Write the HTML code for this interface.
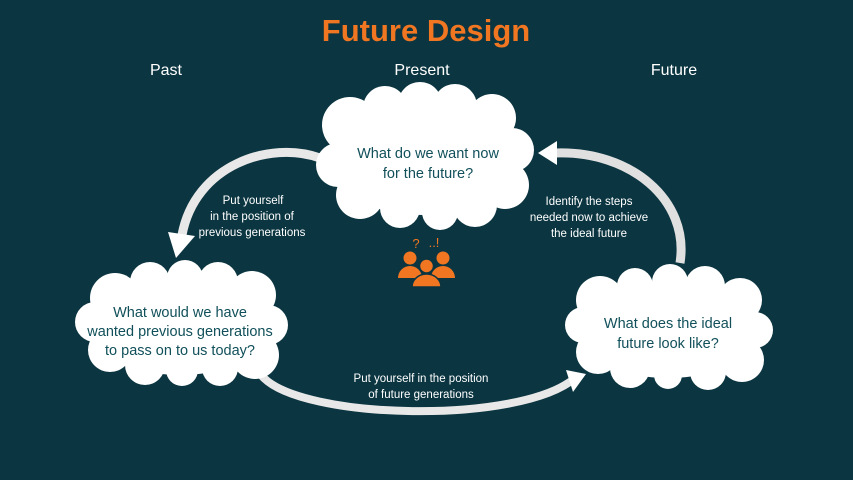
<!DOCTYPE html>
<html><head><meta charset="utf-8"><style>
html,body{margin:0;padding:0;background:#0b3540;}
svg{display:block}
text{font-family:"Liberation Sans",sans-serif}
</style></head><body>
<svg width="853" height="480" viewBox="0 0 853 480" xmlns="http://www.w3.org/2000/svg">
<rect width="853" height="480" fill="#0b3540"/>
<text x="426" y="41" text-anchor="middle" font-size="31" font-weight="bold" fill="#f07622">Future Design</text>
<text x="166" y="75" text-anchor="middle" font-size="16" fill="#fff">Past</text>
<text x="422" y="75" text-anchor="middle" font-size="16" fill="#fff">Present</text>
<text x="674" y="75" text-anchor="middle" font-size="16" fill="#fff">Future</text>

<g fill="none" stroke-linecap="butt">
<path d="M320,158 C270,140 195,165 182,235" stroke="#e8e8e8" stroke-width="9"/>
<path d="M680,263 C690,200 630,150 555,153" stroke="#e0e0e0" stroke-width="9"/>
<path d="M262,376 C300,420 520,425 575,378" stroke="#e8e8e8" stroke-width="8"/>
</g>
<polygon points="168,232 195,236 176,258" fill="#ffffff"/>
<polygon points="557,141 557,165 538,153" fill="#ffffff"/>
<polygon points="566,370 586,374 573,392" fill="#ffffff"/>

<g fill="#fff">
<ellipse cx="423" cy="160" rx="95" ry="55"/>
<circle cx="350" cy="125" r="28"/><circle cx="385" cy="108" r="22"/><circle cx="420" cy="104" r="22"/><circle cx="455" cy="106" r="22"/><circle cx="492" cy="118" r="24"/>
<circle cx="512" cy="150" r="22"/><circle cx="505" cy="185" r="24"/><circle cx="475" cy="205" r="22"/><circle cx="440" cy="212" r="18"/><circle cx="400" cy="208" r="20"/>
<circle cx="360" cy="195" r="24"/><circle cx="338" cy="165" r="22"/>
</g>
<text x="428" y="158" text-anchor="middle" font-size="14.5" fill="#11505a">What do we want now</text>
<text x="428" y="178" text-anchor="middle" font-size="14.5" fill="#11505a">for the future?</text>

<g fill="#fff">
<ellipse cx="180" cy="325" rx="95" ry="50"/>
<circle cx="115" cy="298" r="25"/><circle cx="150" cy="282" r="20"/><circle cx="185" cy="278" r="18"/><circle cx="218" cy="282" r="20"/><circle cx="252" cy="295" r="24"/>
<circle cx="268" cy="325" r="20"/><circle cx="255" cy="355" r="24"/><circle cx="220" cy="368" r="18"/><circle cx="182" cy="370" r="16"/><circle cx="145" cy="365" r="20"/>
<circle cx="110" cy="350" r="22"/><circle cx="95" cy="322" r="20"/>
</g>
<text x="180" y="317" text-anchor="middle" font-size="14.5" fill="#11505a">What would we have</text>
<text x="180" y="336" text-anchor="middle" font-size="14.5" fill="#11505a">wanted previous generations</text>
<text x="180" y="355" text-anchor="middle" font-size="14.5" fill="#11505a">to pass on to us today?</text>

<g fill="#fff">
<ellipse cx="668" cy="330" rx="92" ry="48"/>
<circle cx="600" cy="300" r="24"/><circle cx="635" cy="286" r="18"/><circle cx="670" cy="282" r="18"/><circle cx="705" cy="286" r="20"/><circle cx="740" cy="300" r="22"/>
<circle cx="755" cy="330" r="18"/><circle cx="742" cy="360" r="22"/><circle cx="708" cy="372" r="18"/><circle cx="668" cy="375" r="14"/><circle cx="630" cy="368" r="20"/>
<circle cx="598" cy="352" r="22"/><circle cx="583" cy="325" r="18"/>
</g>
<text x="668" y="328" text-anchor="middle" font-size="14.5" fill="#11505a">What does the ideal</text>
<text x="668" y="348" text-anchor="middle" font-size="14.5" fill="#11505a">future look like?</text>

<g font-size="11.5" fill="#fff" text-anchor="middle">
<text x="253" y="204">Put yourself</text>
<text x="252" y="220">in the position of</text>
<text x="252" y="236">previous generations</text>
<text x="589" y="205">Identify the steps</text>
<text x="589" y="221">needed now to achieve</text>
<text x="589" y="237">the ideal future</text>
<text x="421" y="382">Put yourself in the position</text>
<text x="421" y="398">of future generations</text>
</g>

<text x="416" y="248" text-anchor="middle" font-size="13" fill="#f07622">?</text>
<text x="434" y="247" text-anchor="middle" font-size="13" fill="#f07622">..!</text>
<g fill="#f07622">
<circle cx="410" cy="258" r="6.5"/><path d="M398,278 a12,12 0 0 1 24,0 z"/>
<circle cx="443" cy="258" r="6.5"/><path d="M431,278 a12,12 0 0 1 24,0 z"/>
<circle cx="426.5" cy="266" r="7" stroke="#0b3540" stroke-width="1.5"/><path d="M412,287 a14.5,13 0 0 1 29,0 z" stroke="#0b3540" stroke-width="1.5"/>
</g>
</svg>
</body></html>
